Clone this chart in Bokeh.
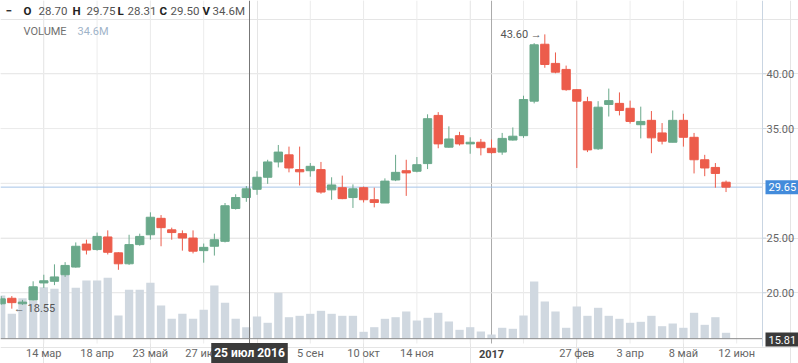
import pandas as pd
from bokeh.plotting import figure
from bokeh.models import Range1d, Label
from bokeh.embed import file_html
from bokeh.resources import INLINE

# ---------------- data (weekly candles) ----------------
week_start = pd.date_range("2016-02-15", periods=69, freq="7D")

opens = [19.0, 19.5, 19.0, 19.35, 20.9, 21.05, 21.65, 22.35, 24.45, 23.95,
         25.1, 23.65, 22.65, 24.4, 25.3, 26.8, 25.75, 25.4, 25.0, 23.85,
         24.25, 24.7, 27.7, 28.70, 29.45, 30.55, 31.95, 32.6, 31.25, 31.15,
         31.25, 29.4, 29.6, 28.7, 29.6, 28.5, 28.2, 30.3, 31.15, 31.1,
         31.8, 36.2, 33.3, 34.35, 33.6, 33.75, 33.2, 32.85, 33.95, 34.35,
         37.5, 42.7, 40.95, 40.4, 38.55, 37.45, 33.15, 37.2, 37.3, 36.85,
         35.35, 35.75, 34.6, 33.75, 35.75, 34.2, 32.15, 31.45, 30.1]
highs = [19.7, 19.7, 19.35, 21.05, 21.65, 22.6, 22.8, 24.6, 24.85, 25.5,
         25.7, 23.7, 25.3, 25.4, 27.35, 27.1, 25.95, 25.7, 25.7, 24.5,
         25.4, 28.2, 29.0, 29.75, 31.1, 32.15, 33.5, 33.35, 33.35, 31.85,
         31.95, 30.55, 30.7, 29.9, 29.7, 29.6, 30.45, 32.6, 32.15, 32.4,
         36.3, 36.5, 35.2, 34.7, 34.2, 34.05, 34.0, 34.6, 35.1, 38.0,
         42.8, 43.6, 41.95, 40.75, 38.6, 37.9, 37.5, 38.65, 38.3, 37.55,
         37.0, 36.6, 35.5, 36.65, 36.35, 34.6, 32.6, 31.85, 30.25]
lows = [18.9, 18.55, 18.9, 19.3, 20.45, 20.7, 21.45, 22.3, 23.5, 23.85,
        23.5, 22.1, 22.55, 24.3, 24.85, 24.25, 24.85, 23.85, 23.6, 22.75,
        23.4, 24.6, 27.6, 28.31, 28.95, 29.95, 31.45, 31.0, 29.8, 30.6,
        29.05, 28.5, 28.55, 27.75, 28.25, 27.8, 28.2, 30.2, 28.85, 31.0,
        31.3, 33.2, 33.25, 33.45, 32.7, 32.55, 32.7, 32.6, 33.9, 34.15,
        37.3, 40.55, 40.05, 38.45, 31.4, 32.85, 33.05, 36.1, 36.2, 35.45,
        34.1, 32.75, 33.55, 33.75, 33.35, 30.9, 30.65, 29.6, 29.2]
closes = [19.45, 19.1, 19.15, 20.55, 21.1, 21.45, 22.5, 24.25, 23.9, 25.15,
          23.7, 22.65, 24.4, 25.15, 26.9, 25.95, 25.5, 25.0, 23.8, 24.15,
          24.85, 27.95, 28.7, 29.50, 30.55, 31.95, 32.85, 31.4, 31.05, 31.55,
          29.2, 29.85, 28.6, 29.5, 28.5, 28.25, 30.2, 31.0, 30.95, 31.7,
          35.9, 33.6, 34.05, 33.6, 33.75, 33.25, 32.8, 34.1, 34.3, 37.65,
          42.65, 40.85, 40.15, 38.55, 37.5, 33.05, 36.95, 37.55, 36.65, 35.65,
          35.65, 34.15, 33.85, 35.75, 34.2, 32.15, 31.4, 30.9, 29.65]
volumes_m = [131.7, 75.6, 123.4, 116.4, 157.1, 152.2, 198.1, 155.2, 177.6, 177.6,
             185.9, 70.4, 149.1, 149.1, 170.5, 101.0, 60.3, 75.6, 60.3, 87.9,
             162.3, 109.3, 60.3, 34.6, 67.4, 48.1, 139.9, 65.2, 69.5, 75.6,
             84.8, 75.6, 69.5, 69.5, 20.5, 34.6, 60.3, 65.2, 82.7, 55.1,
             63.4, 78.7, 52.1, 26.6, 34.6, 21.4, 12.2, 32.8, 29.7, 70.4,
             174.5, 113.3, 82.7, 32.8, 98.0, 69.5, 94.0, 69.5, 60.3, 48.1,
             51.1, 69.5, 37.7, 45.9, 32.8, 78.7, 41.9, 65.2, 17.5]

tick_dates = ["2016-03-14", "2016-04-18", "2016-05-23", "2016-06-27", "2016-09-05",
              "2016-10-10", "2016-11-14", "2016-12-19", "2017-01-02", "2017-01-23",
              "2017-02-27", "2017-04-03", "2017-05-08", "2017-06-12"]
tick_labels = ["14 мар", "18 апр", "23 май", "27 июн", "5 сен", "10 окт", "14 ноя",
               "", "2017", "", "27 фев", "3 апр", "8 май", "12 июн"]
price_ticks = [20, 25, 35, 40]
grid_prices = [20, 25, 30, 35, 40]
last_price = 29.65
crosshair_price = 15.81
crosshair_label = "25 июл 2016"
crosshair_idx = 23
max_label = "43.60 →"
min_label = "← 18.55"

# ---------------- helpers ----------------
origin = pd.Timestamp("2016-03-14")
def week_index(d):
    return (pd.Timestamp(d) - origin).days / 7.0

def dx(px):  # page x pixel -> week index
    return (px - 43.3) / 10.66

def dy(py):  # page y pixel -> price
    return 40 - (py - 73.3) / 10.95

VOL_K = 0.3266  # px per million shares
def vy(py):  # page y pixel -> volume
    return (338 - py) / VOL_K

W, H = 798, 363
X_RIGHT = dx(762)      # right edge of price pane
Y_BOTTOM = crosshair_price  # bottom edge of price pane (page y 338)
Y_TOP = dy(0)

xs = [week_index(d) for d in week_start]
GREEN, RED = "#6aa98b", "#ec5c4b"
colors = [GREEN if c >= o else RED for o, c in zip(opens, closes)]
body_bot = [min(o, c) for o, c in zip(opens, closes)]
body_top = [max(o, c) for o, c in zip(opens, closes)]

FONT = "Roboto"

p = figure(width=W, height=H, x_range=Range1d(dx(0), dx(W)), y_range=Range1d(dy(H), dy(0)),
           x_axis_location=None, y_axis_location=None,
           min_border_left=0, min_border_right=0, min_border_top=0, min_border_bottom=0,
           output_backend="svg", toolbar_location=None, outline_line_color=None)
p.extra_y_ranges = {"vol": Range1d(vy(H), vy(0))}

# grid lines
gx = [week_index(d) for d in tick_dates]
gcol = ["#aaaaaa" if lab == "2017" else "#ececec" for lab in tick_labels]
p.segment(x0=gx, y0=[dy(343)] * len(gx), x1=gx, y1=[Y_TOP] * len(gx), line_color=gcol, line_width=1)
p.segment(x0=[dx(0)] * len(grid_prices), y0=grid_prices, x1=[X_RIGHT] * len(grid_prices),
          y1=grid_prices, line_color="#ececec", line_width=1)

# volume bars
p.vbar(x=xs, top=volumes_m, bottom=0, width=0.78, y_range_name="vol",
       fill_color="#d0d8e0", line_color=None)

# last price line
p.segment(x0=[dx(0)], y0=[last_price], x1=[X_RIGHT], y1=[last_price], line_color="#a6c5e8", line_width=1)

# candles
p.segment(x0=xs, y0=highs, x1=xs, y1=lows, line_color=colors, line_width=1)
p.vbar(x=xs, bottom=body_bot, top=body_top, width=0.78, fill_color=colors, line_color=colors)

# crosshair
p.segment(x0=[dx(249)], y0=[dy(343)], x1=[dx(249)], y1=[Y_TOP], line_color="#777777", line_width=1)
p.segment(x0=[dx(0)], y0=[Y_BOTTOM], x1=[X_RIGHT], y1=[Y_BOTTOM], line_color="#8a8a8a", line_width=1)
# right axis line and ticks
p.segment(x0=[X_RIGHT], y0=[dy(346)], x1=[X_RIGHT], y1=[Y_TOP], line_color="#c9d5e2", line_width=1)
p.segment(x0=[X_RIGHT] * len(price_ticks), y0=price_ticks, x1=[dx(765.5)] * len(price_ticks),
          y1=price_ticks, line_color="#c9d5e2", line_width=1)

# max / min markers
imax = highs.index(max(highs))
imin = lows.index(min(lows))
p.add_layout(Label(x=xs[imax], y=highs[imax], text=max_label, text_align="right",
                   text_baseline="middle", x_offset=-3, text_font=FONT,
                   text_font_size="11px", text_color="#555555"))
p.add_layout(Label(x=xs[imin], y=lows[imin], text=min_label, text_align="left",
                   text_baseline="middle", x_offset=2, text_font=FONT,
                   text_font_size="11px", text_color="#555555"))

# legend (OHLCV of crosshair candle)
ci = crosshair_idx
legend_items = [("−", 5, True), ("O", 23, True), (f"{opens[ci]:.2f}", 38, False),
                ("H", 72, True), (f"{highs[ci]:.2f}", 86, False),
                ("L", 117, True), (f"{lows[ci]:.2f}", 127, False),
                ("C", 159, True), (f"{closes[ci]:.2f}", 170, False),
                ("V", 202, True), (f"{volumes_m[ci]:.1f}M", 212, False)]
for txt, px, bold in legend_items:
    p.add_layout(Label(x=dx(px), y=dy(10.5), text=txt, text_align="left", text_baseline="middle",
                       text_font=FONT, text_font_size="11.5px",
                       text_font_style="bold" if bold else "normal",
                       text_color="#222222" if bold else "#555555"))
p.add_layout(Label(x=dx(23), y=dy(30.5), text="VOLUME", text_align="left", text_baseline="middle",
                   text_font=FONT, text_font_size="11px", text_color="#6f6f6f"))
p.add_layout(Label(x=dx(77), y=dy(30.5), text=f"{volumes_m[ci]:.1f}M", text_align="left",
                   text_baseline="middle", text_font=FONT, text_font_size="11px",
                   text_color="#9fb4c9"))

# right price axis labels
for t in price_ticks:
    p.add_layout(Label(x=dx(766), y=t, text=f"{t:.2f}", text_align="left", text_baseline="middle",
                       text_font=FONT, text_font_size="11px", text_color="#666666"))
p.add_layout(Label(x=dx(765), y=last_price, text=f"{last_price:.2f}", text_align="left",
                   text_baseline="middle", text_font=FONT, text_font_size="11px",
                   text_color="white", background_fill_color="#438bdb", padding=3))
p.add_layout(Label(x=dx(765), y=dy(339), text=f"{crosshair_price:.2f}", text_align="left",
                   text_baseline="middle", text_font=FONT, text_font_size="11px",
                   text_color="white", background_fill_color="#3a3a3a", padding=3))

# date axis labels
for d, lab in zip(tick_dates, tick_labels):
    if not lab:
        continue
    bold = lab == "2017"
    p.add_layout(Label(x=week_index(d), y=dy(353), text=lab, text_align="center",
                       text_baseline="middle", text_font=FONT, text_font_size="11px",
                       text_font_style="bold" if bold else "normal",
                       text_color="#444444" if bold else "#666666"))
p.add_layout(Label(x=dx(249), y=dy(352.5), text=crosshair_label, text_align="center",
                   text_baseline="middle", text_font=FONT, text_font_size="12px",
                   text_font_style="bold", text_color="white",
                   background_fill_color="#3b3b3b", padding=3))

open("out.html", "w").write(file_html(p, INLINE))
